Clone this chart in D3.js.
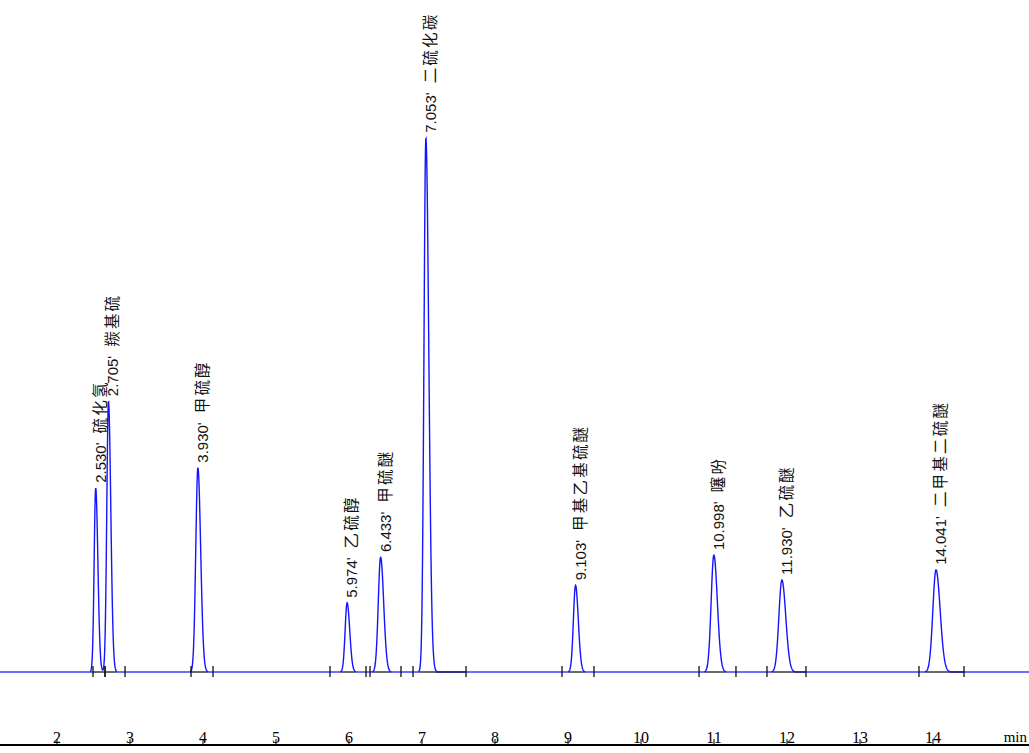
<!DOCTYPE html>
<html><head><meta charset="utf-8">
<script src="https://cdn.jsdelivr.net/npm/d3@7"></script>
<style>html,body{margin:0;padding:0;background:#fff;}svg{display:block;}</style>
</head><body>
<svg id="c" width="1029" height="753"></svg>
<script>
// Peak table
const retentionTimes = [2.530, 2.705, 3.930, 5.974, 6.433, 7.053, 9.103, 10.998, 11.930, 14.041];
const compounds = ["硫化氢", "羰基硫", "甲硫醇", "乙硫醇", "甲硫醚", "二硫化碳", "甲基乙基硫醚", "噻吩", "乙硫醚", "二甲基二硫醚"];
const peakHeights = [27.4, 40.3, 30.4, 10.3, 17.1, 79.5, 12.9, 17.4, 13.7, 15.2]; // mV (approx.)
const sigmaLeft  = [0.021, 0.023, 0.029, 0.027, 0.032, 0.026, 0.029, 0.037, 0.041, 0.043]; // min
const sigmaRight = [0.030, 0.032, 0.038, 0.036, 0.042, 0.040, 0.038, 0.048, 0.053, 0.057]; // min
const integStart = [2.493, 2.658, 3.836, 5.740, 6.288, 6.877, 8.918, 10.795, 11.726, 13.808];
const integEnd   = [2.658, 2.932, 4.137, 6.233, 6.712, 7.603, 9.356, 11.301, 12.260, 14.425];
const timeTicks = [2, 3, 4, 5, 6, 7, 8, 9, 10, 11, 12, 13, 14];
const axisUnit = "min";

const W = 1029, H = 753;
const svg = d3.select("#c");
const x = d3.scaleLinear().domain([2, 14]).range([57, 933]);
const y = d3.scaleLinear().domain([0, 100]).range([672, 0]);
const tMin = x.invert(0), tMax = x.invert(W);

function signal(t) {
  let s = 0;
  for (let i = 0; i < retentionTimes.length; i++) {
    const d = t - retentionTimes[i];
    const sg = d < 0 ? sigmaLeft[i] : sigmaRight[i];
    s += peakHeights[i] * Math.exp(-d * d / (2 * sg * sg));
  }
  return s;
}
const trace = d3.range(tMin, tMax, 0.004).map(t => ({t, v: signal(t)}));

// baseline of the trace
svg.append("line").attr("x1", 0).attr("x2", W).attr("y1", y(0)).attr("y2", y(0))
  .attr("stroke", "#6e6eff").attr("stroke-width", 2);

// integration baselines
retentionTimes.forEach((rt, i) => {
  const a = Math.max(integStart[i], rt - 3.2 * sigmaLeft[i]);
  const b = Math.min(integEnd[i], rt + 3.3 * sigmaRight[i]);
  svg.append("line").attr("x1", x(a)).attr("x2", x(b)).attr("y1", y(0)).attr("y2", y(0))
    .attr("stroke", "#6a6a6a").attr("stroke-width", 2);
  if (integEnd[i] - b > 0.15) {
    svg.append("line").attr("x1", x(b)).attr("x2", x(integEnd[i])).attr("y1", y(0)).attr("y2", y(0))
      .attr("stroke", "#262670").attr("stroke-width", 1.6);
  }
});

// trace
svg.append("path").datum(trace)
  .attr("fill", "none").attr("stroke", "#1414ff").attr("stroke-width", 1.4)
  .attr("d", d3.line().defined(d => d.v > 0.03).x(d => x(d.t)).y(d => y(d.v)));

// integration event ticks
const events = [];
integStart.forEach((s, i) => { events.push(s); events.push(integEnd[i]); });
svg.selectAll("line.ev").data(events).enter().append("line").attr("class", "ev")
  .attr("x1", d => x(d)).attr("x2", d => x(d)).attr("y1", y(0) - 6).attr("y2", y(0) + 5)
  .attr("stroke", "#111").attr("stroke-width", 1.3);

// peak labels
retentionTimes.forEach((rt, i) => {
  const px = x(rt) + 10, py = y(peakHeights[i]) - 5;
  const txt = svg.append("text")
    .attr("transform", `translate(${px},${py}) rotate(-90)`)
    .attr("font-family", "'Liberation Sans', Arial, sans-serif")
    .attr("font-size", 15).attr("fill", "#111");
  txt.append("tspan").text(rt.toFixed(3) + "'");
  txt.append("tspan").attr("dx", 9).attr("font-family", "'Noto Sans CJK SC', sans-serif")
    .attr("font-size", 15.5).attr("letter-spacing", 2.2).text(compounds[i]);
});

// time axis
const axisY = 745;
svg.append("line").attr("x1", 0).attr("x2", W).attr("y1", axisY).attr("y2", axisY)
  .attr("stroke", "#000").attr("stroke-width", 2);
svg.selectAll("line.tk").data(timeTicks).enter().append("line").attr("class", "tk")
  .attr("x1", d => x(d)).attr("x2", d => x(d)).attr("y1", axisY - 6).attr("y2", axisY)
  .attr("stroke", "#000").attr("stroke-width", 1);
svg.selectAll("text.tl").data(timeTicks).enter().append("text").attr("class", "tl")
  .attr("x", d => x(d)).attr("y", axisY - 2).attr("text-anchor", "middle")
  .attr("font-family", "'Liberation Serif', 'Times New Roman', serif").attr("font-size", 16)
  .attr("fill", "#000").text(d => d);
svg.append("text").attr("x", W - 2).attr("y", axisY - 3).attr("text-anchor", "end")
  .attr("font-family", "'Liberation Serif', 'Times New Roman', serif").attr("font-size", 15)
  .attr("fill", "#000").text(axisUnit);
</script>
</body></html>
